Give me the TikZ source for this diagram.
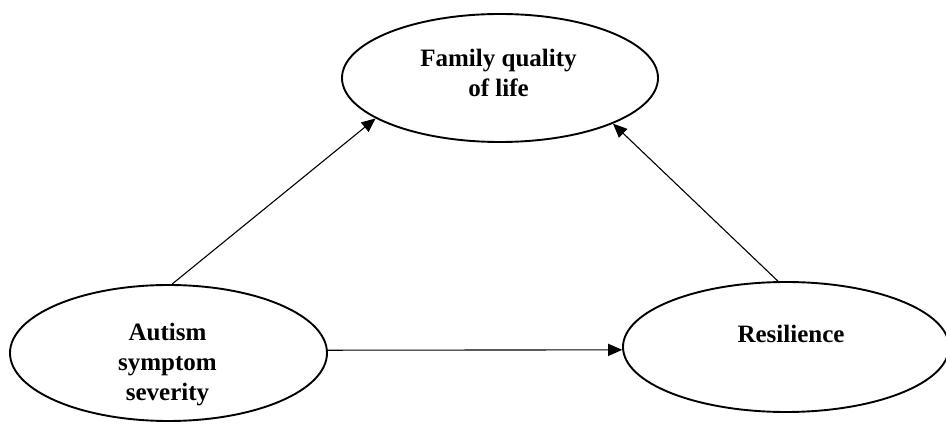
\documentclass[tikz,border=0pt]{standalone}
\usepackage{fontspec}
\setmainfont{Liberation Serif}
\usetikzlibrary{shapes.geometric,arrows.meta}
\begin{document}
\begin{tikzpicture}[x=1pt,y=-1pt,
 ell/.style={draw, ellipse, line width=1.9pt, inner sep=0pt},
 lbl/.style={font=\bfseries\fontsize{25}{30}\selectfont, align=center, inner sep=0pt},
 conn/.style={line width=1.1pt, -{Triangle[length=14pt,width=12pt]}}]
\useasboundingbox (0,0) rectangle (946,427);
\node[ell, minimum width=316pt, minimum height=128pt] (T) at (500,78) {};
\node[ell, minimum width=317pt, minimum height=136pt] (L) at (168.5,353) {};
\node[ell, minimum width=326pt, minimum height=130pt] (R) at (786,347) {};
\node[lbl] (tT) at (498.5,73) {Family quality\\of life};
\node[lbl] (tL) at (167.5,365) {Autism\\symptom\\severity};
\node[lbl] (tR) at (791,333.5) {Resilience};
\draw[conn] (L.87) -- (T.198.6);
\draw[conn] (R.97) -- (T.-22);
\draw[conn] (L.1.5) -- (R.181);
\end{tikzpicture}
\end{document}
